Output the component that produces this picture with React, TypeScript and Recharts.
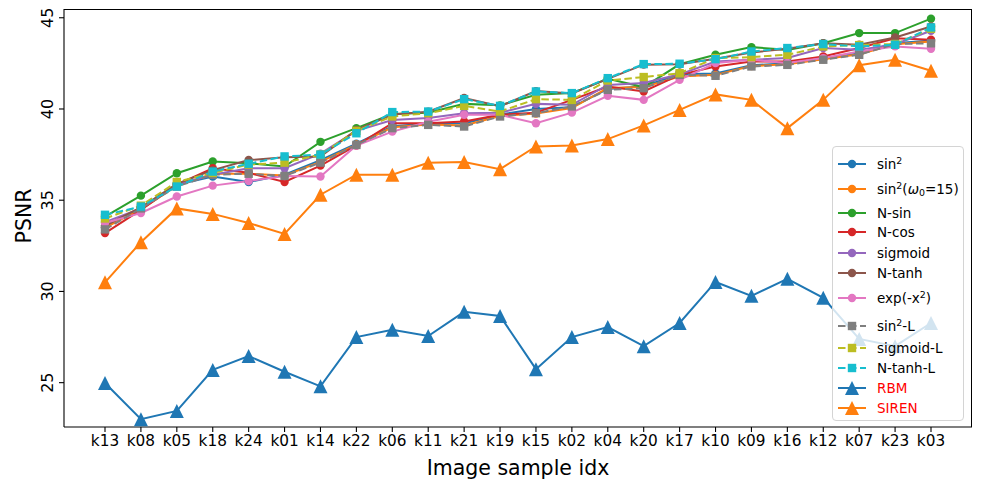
import React from 'react';
import { LineChart, Line, XAxis, YAxis } from 'recharts';

// image samples, in plot order
const categories = [
  'k13', 'k08', 'k05', 'k18', 'k24', 'k01', 'k14', 'k22', 'k06', 'k11', 'k21', 'k19',
  'k15', 'k02', 'k04', 'k20', 'k17', 'k10', 'k09', 'k16', 'k12', 'k07', 'k23', 'k03',
];

const sin2 = [33.5, 34.6, 35.85, 36.3, 36.0, 36.4, 37.2, 38.1, 39.05, 39.2, 39.2, 39.7, 40.0, 40.1, 41.1, 41.25, 41.9, 41.95, 42.4, 42.5, 42.75, 43.05, 43.6, 43.75];
const sin2w15 = [33.5, 34.5, 35.8, 36.45, 36.45, 36.35, 37.1, 38.05, 39.0, 39.15, 39.1, 39.62, 39.75, 40.05, 41.15, 41.2, 41.78, 41.87, 42.35, 42.45, 42.72, 43.0, 43.55, 43.7];
const nSin = [34.1, 35.25, 36.48, 37.12, 37.03, 36.85, 38.2, 38.95, 39.72, 39.8, 40.28, 40.2, 40.78, 40.87, 41.65, 41.2, 42.45, 42.97, 43.39, 43.24, 43.6, 44.16, 44.16, 44.95];
const nCos = [33.2, 34.47, 35.85, 36.75, 36.5, 36.0, 36.9, 38.0, 39.22, 39.22, 39.31, 39.68, 39.8, 40.5, 41.23, 40.96, 41.87, 42.33, 42.6, 42.6, 42.88, 43.34, 43.88, 43.8];
const sigmoid = [33.8, 34.55, 35.85, 36.4, 36.75, 36.75, 37.55, 38.8, 39.4, 39.5, 39.77, 39.8, 40.28, 40.23, 41.32, 41.42, 41.9, 42.6, 42.7, 42.79, 43.34, 43.24, 43.55, 44.29];
const nTanh = [33.6, 34.6, 35.9, 36.65, 37.2, 37.35, 37.4, 38.85, 39.7, 39.85, 40.6, 40.15, 40.98, 40.85, 41.65, 42.43, 42.45, 42.75, 43.1, 43.3, 43.6, 43.52, 43.92, 44.52];
const expX2 = [33.75, 34.3, 35.2, 35.8, 36.05, 36.33, 36.3, 38.0, 38.76, 39.3, 39.68, 39.68, 39.22, 39.8, 40.72, 40.5, 41.6, 42.52, 42.7, 42.52, 42.79, 43.15, 43.43, 43.3];
const sin2L = [33.4, 34.55, 35.75, 36.4, 36.45, 36.33, 37.06, 38.03, 38.95, 39.13, 39.04, 39.59, 39.77, 40.14, 41.05, 41.14, 41.87, 41.82, 42.33, 42.42, 42.7, 42.97, 43.56, 43.6];
const sigmoidL = [34.0, 34.7, 36.0, 36.5, 36.95, 37.06, 37.5, 38.8, 39.59, 39.77, 40.17, 39.86, 40.54, 40.5, 41.56, 41.75, 41.96, 42.79, 42.84, 42.97, 43.43, 43.5, 43.56, 44.4];
const nTanhL = [34.2, 34.65, 35.75, 36.57, 37.0, 37.4, 37.5, 38.67, 39.83, 39.86, 40.54, 40.17, 40.96, 40.87, 41.69, 42.46, 42.48, 42.73, 43.15, 43.34, 43.56, 43.43, 43.52, 44.47];
const rbm = [24.98, 23.0, 23.45, 25.7, 26.46, 25.6, 24.8, 27.5, 27.9, 27.56, 28.88, 28.66, 25.74, 27.5, 28.05, 27.0, 28.27, 30.52, 29.76, 30.69, 29.65, 27.4, 27.0, 28.27];
const siren = [30.5, 32.7, 34.55, 34.25, 33.75, 33.15, 35.3, 36.4, 36.4, 37.05, 37.1, 36.7, 37.95, 38.0, 38.35, 39.1, 39.95, 40.8, 40.5, 38.95, 40.5, 42.4, 42.7, 42.1];

const yTicks = [25, 30, 35, 40, 45];
const yDomain: [number, number] = [22.57, 45.48];

const FONT = '"DejaVu Sans", sans-serif';

type Marker = 'circle' | 'square' | 'triangle';

const Sup = ({ children }: { children: React.ReactNode }) => (
  <span style={{ fontSize: '0.7em', position: 'relative', top: '-0.5em' }}>{children}</span>
);
const Sub = ({ children }: { children: React.ReactNode }) => (
  <span style={{ fontSize: '0.7em', position: 'relative', top: '0.25em' }}>{children}</span>
);

const series: {
  key: string;
  values: number[];
  color: string;
  marker: Marker;
  dashed?: boolean;
  label: React.ReactNode;
  labelColor?: string;
}[] = [
  { key: 'sin2', values: sin2, color: '#1f77b4', marker: 'circle', label: <>sin<Sup>2</Sup></> },
  { key: 'sin2w15', values: sin2w15, color: '#ff7f0e', marker: 'circle', label: <>sin<Sup>2</Sup>(<i>ω</i><Sub>0</Sub>=15)</> },
  { key: 'nSin', values: nSin, color: '#2ca02c', marker: 'circle', label: 'N-sin' },
  { key: 'nCos', values: nCos, color: '#d62728', marker: 'circle', label: 'N-cos' },
  { key: 'sigmoid', values: sigmoid, color: '#9467bd', marker: 'circle', label: 'sigmoid' },
  { key: 'nTanh', values: nTanh, color: '#8c564b', marker: 'circle', label: 'N-tanh' },
  { key: 'expX2', values: expX2, color: '#e377c2', marker: 'circle', label: <>exp(-x<Sup>2</Sup>)</> },
  { key: 'sin2L', values: sin2L, color: '#7f7f7f', marker: 'square', dashed: true, label: <>sin<Sup>2</Sup>-L</> },
  { key: 'sigmoidL', values: sigmoidL, color: '#bcbd22', marker: 'square', dashed: true, label: 'sigmoid-L' },
  { key: 'nTanhL', values: nTanhL, color: '#17becf', marker: 'square', dashed: true, label: 'N-tanh-L' },
  { key: 'rbm', values: rbm, color: '#1f77b4', marker: 'triangle', label: 'RBM', labelColor: '#ff0000' },
  { key: 'siren', values: siren, color: '#ff7f0e', marker: 'triangle', label: 'SIREN', labelColor: '#ff0000' },
];

const data = categories.map((name, i) => {
  const row: Record<string, string | number> = { name };
  series.forEach((s) => {
    row[s.key] = s.values[i];
  });
  return row;
});

function drawMarker(marker: Marker, color: string, cx: number, cy: number, key?: string) {
  if (marker === 'square') {
    return <rect key={key} x={cx - 4.2} y={cy - 4.2} width={8.4} height={8.4} fill={color} />;
  }
  if (marker === 'triangle') {
    return (
      <polygon
        key={key}
        points={`${cx},${cy - 7} ${cx - 7},${cy + 7} ${cx + 7},${cy + 7}`}
        fill={color}
      />
    );
  }
  return <circle key={key} cx={cx} cy={cy} r={4.2} fill={color} />;
}

const makeDot = (marker: Marker, color: string) => (props: any) => {
  const { cx, cy, index } = props;
  if (cx == null || cy == null) return <g key={`e-${index}`} />;
  return drawMarker(marker, color, cx, cy, `d-${index}`);
};

const YTick = ({ x, y, payload }: any) => (
  <text
    x={x - 4}
    y={y}
    transform={`rotate(-90 ${x - 4} ${y})`}
    textAnchor="middle"
    fill="#000"
    fontSize={16}
    fontFamily={FONT}
  >
    {payload.value}
  </text>
);

// vertical centre of each legend row, from the legend box top
const legendRowY = [17, 41.7, 65.7, 84.7, 105.7, 126.3, 150.7, 179, 200.7, 220.7, 240.7, 260.7];

function ChartLegend() {
  return (
    <div
      style={{
        position: 'absolute',
        left: 832,
        top: 146,
        width: 132,
        height: 275,
        border: '1px solid #d4d4d4',
        borderRadius: 4,
        background: 'rgba(255,255,255,0.8)',
        boxSizing: 'border-box',
        fontFamily: FONT,
        fontSize: 13.5,
      }}
    >
      {series.map((s, i) => (
        <div
          key={s.key}
          style={{ position: 'absolute', left: 0, top: legendRowY[i] - 10, height: 20, width: '100%' }}
        >
          <svg width={40} height={20} style={{ position: 'absolute', left: 4, top: 0 }}>
            <line
              x1={1}
              x2={29}
              y1={10}
              y2={10}
              stroke={s.color}
              strokeWidth={2}
              strokeDasharray={s.dashed ? '7.5 3.5' : undefined}
            />
            {drawMarker(s.marker, s.color, 15, 10)}
          </svg>
          <div
            style={{
              position: 'absolute',
              left: 44,
              top: 0,
              height: 20,
              lineHeight: '20px',
              whiteSpace: 'nowrap',
              color: s.labelColor ?? '#000',
            }}
          >
            {s.label}
          </div>
        </div>
      ))}
    </div>
  );
}

export default function App() {
  const axisStroke = { stroke: '#000', strokeWidth: 1.1 };
  return (
    <div style={{ position: 'absolute', left: 0, top: 0, width: 981, height: 489, background: '#fff' }}>
      <LineChart width={981} height={489} data={data} margin={{ top: 9, right: 9, left: 0, bottom: 0 }}>
        <XAxis
          dataKey="name"
          height={62}
          padding={{ left: 41, right: 41 }}
          interval={0}
          tickSize={5}
          tickMargin={3}
          axisLine={axisStroke}
          tickLine={axisStroke}
          tick={{ fill: '#000', fontSize: 15.3, fontFamily: FONT }}
          label={{
            value: 'Image sample idx',
            position: 'insideBottom',
            offset: 14,
            fill: '#000',
            fontSize: 20.5,
            fontFamily: FONT,
          }}
        />
        <YAxis
          width={64}
          type="number"
          domain={yDomain}
          ticks={yTicks}
          allowDataOverflow
          tickSize={5}
          axisLine={axisStroke}
          tickLine={axisStroke}
          tick={<YTick />}
          label={{
            content: () => (
              <text
                x={31}
                y={216}
                transform="rotate(-90 31 216)"
                textAnchor="middle"
                fill="#000"
                fontSize={20.5}
                fontFamily={FONT}
              >
                PSNR
              </text>
            ),
          }}
        />
        {series.map((s) => (
          <Line
            key={s.key}
            type="linear"
            dataKey={s.key}
            stroke={s.color}
            strokeWidth={2}
            strokeDasharray={s.dashed ? '7.5 3.5' : undefined}
            dot={makeDot(s.marker, s.color)}
            activeDot={false}
            isAnimationActive={false}
          />
        ))}
      </LineChart>
      {/* top and right spines of the axes box */}
      <div
        style={{
          position: 'absolute',
          left: 64,
          top: 9,
          width: 908,
          height: 418,
          borderTop: '1.1px solid #000',
          borderRight: '1.1px solid #000',
          boxSizing: 'border-box',
          pointerEvents: 'none',
        }}
      />
      <ChartLegend />
    </div>
  );
}
